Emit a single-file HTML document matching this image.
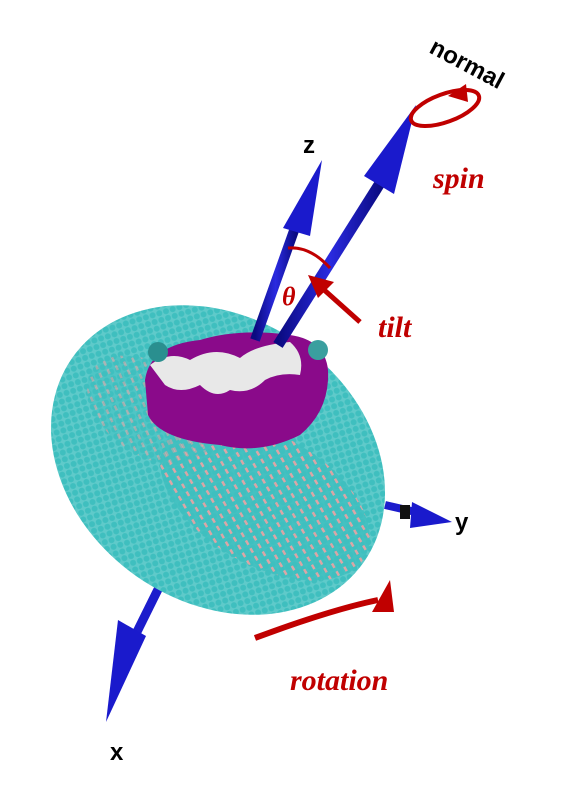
<!DOCTYPE html>
<html><head><meta charset="utf-8"><style>
html,body{margin:0;padding:0;background:#fff;}
svg{display:block;}
text{font-family:"Liberation Serif",serif;}
</style></head><body>
<svg width="562" height="794" viewBox="0 0 562 794">
<defs>
<pattern id="dots" width="7" height="7" patternUnits="userSpaceOnUse" patternTransform="rotate(38)">
<rect width="7" height="7" fill="#5fcaca"/><circle cx="3.5" cy="3.5" r="3" fill="#3fbfbf"/></pattern>
<pattern id="pdots" width="9" height="9" patternUnits="userSpaceOnUse" patternTransform="rotate(30)">
<rect width="9" height="9" fill="#3fbfbf"/><rect x="1" y="3" width="5" height="2.5" fill="#f4a0a0"/></pattern>
<linearGradient id="blue" x1="0" x2="1"><stop offset="0" stop-color="#0a0a80"/><stop offset="0.5" stop-color="#2a2ae0"/><stop offset="1" stop-color="#0a0a80"/></linearGradient>
</defs>
<g>
<line x1="180" y1="545" x2="128" y2="650" stroke="#1c1ccc" stroke-width="9"/>
<polygon points="118,620 146,636 106,722" fill="#1a1acc"/>
</g>
<g>
<ellipse cx="218" cy="460" rx="178" ry="142" transform="rotate(35 218 460)" fill="url(#dots)"/>
<ellipse cx="265" cy="500" rx="115" ry="65" transform="rotate(30 265 500)" fill="url(#pdots)" opacity="0.85"/>
<ellipse cx="150" cy="410" rx="70" ry="45" transform="rotate(35 150 410)" fill="url(#pdots)" opacity="0.5"/>
</g>
<g>
<line x1="385" y1="505" x2="420" y2="513" stroke="#1c1ccc" stroke-width="8"/>
<rect x="400" y="505" width="10" height="14" fill="#111"/>
<polygon points="412,502 452,522 410,528" fill="#1a1acc"/>
</g>
<text x="455" y="530" font-size="24" font-weight="bold" fill="#000" style="font-family:'Liberation Sans',sans-serif">y</text>
<g>
<path d="M145,380 Q150,345 200,340 Q240,328 290,335 Q325,340 328,370 Q330,410 300,435 Q260,455 220,445 Q160,440 148,415 Z" fill="#8a0a8a"/>
<path d="M150,365 Q170,350 190,360 Q215,345 240,358 Q255,345 290,342 Q305,355 300,375 Q280,372 265,380 Q250,395 230,390 Q215,400 200,385 Q180,395 165,385 Z" fill="#e8e8e8"/>
<circle cx="158" cy="352" r="10" fill="#2a8f8f"/>
<circle cx="318" cy="350" r="10" fill="#3a9f9f"/>
</g>
<g>
<line x1="255" y1="340" x2="296" y2="225" stroke="url(#blue)" stroke-width="10"/>
<polygon points="283,228 310,236 322,160" fill="#1a1acc"/>
</g>
<g>
<line x1="278" y1="345" x2="382" y2="180" stroke="url(#blue)" stroke-width="11"/>
<polygon points="364,176 394,194 416,105" fill="#1a1acc"/>
</g>
<text x="303" y="153" font-size="24" font-weight="bold" fill="#000" style="font-family:'Liberation Sans',sans-serif">z</text>
<text x="428" y="52" font-size="24" font-weight="bold" fill="#000" transform="rotate(28 428 52)" style="font-family:'Liberation Sans',sans-serif">normal</text>
<text x="110" y="760" font-size="24" font-weight="bold" fill="#000" style="font-family:'Liberation Sans',sans-serif">x</text>
<g fill="none" stroke="#c00000" stroke-width="4">
<ellipse cx="445" cy="108" rx="36" ry="14" transform="rotate(-20 445 108)"/>
</g>
<polygon points="448,96 466,84 468,102" fill="#c00000"/>
<text x="433" y="188" font-size="30" font-style="italic" font-weight="bold" fill="#c00000">spin</text>
<path d="M288,248 Q310,246 330,268" fill="none" stroke="#c00000" stroke-width="3"/>
<text x="282" y="305" font-size="26" font-style="italic" font-weight="bold" fill="#c00000">θ</text>
<line x1="360" y1="322" x2="322" y2="288" stroke="#c00000" stroke-width="5"/>
<polygon points="308,275 334,282 318,298" fill="#c00000"/>
<text x="378" y="337" font-size="30" font-style="italic" font-weight="bold" fill="#c00000">tilt</text>
<path d="M255,638 Q330,610 378,600" fill="none" stroke="#c00000" stroke-width="6"/>
<path d="M372,612 L390,580 L394,612 Z" fill="#c00000"/>
<text x="290" y="690" font-size="30" font-style="italic" font-weight="bold" fill="#c00000">rotation</text>
</svg>
</body></html>
